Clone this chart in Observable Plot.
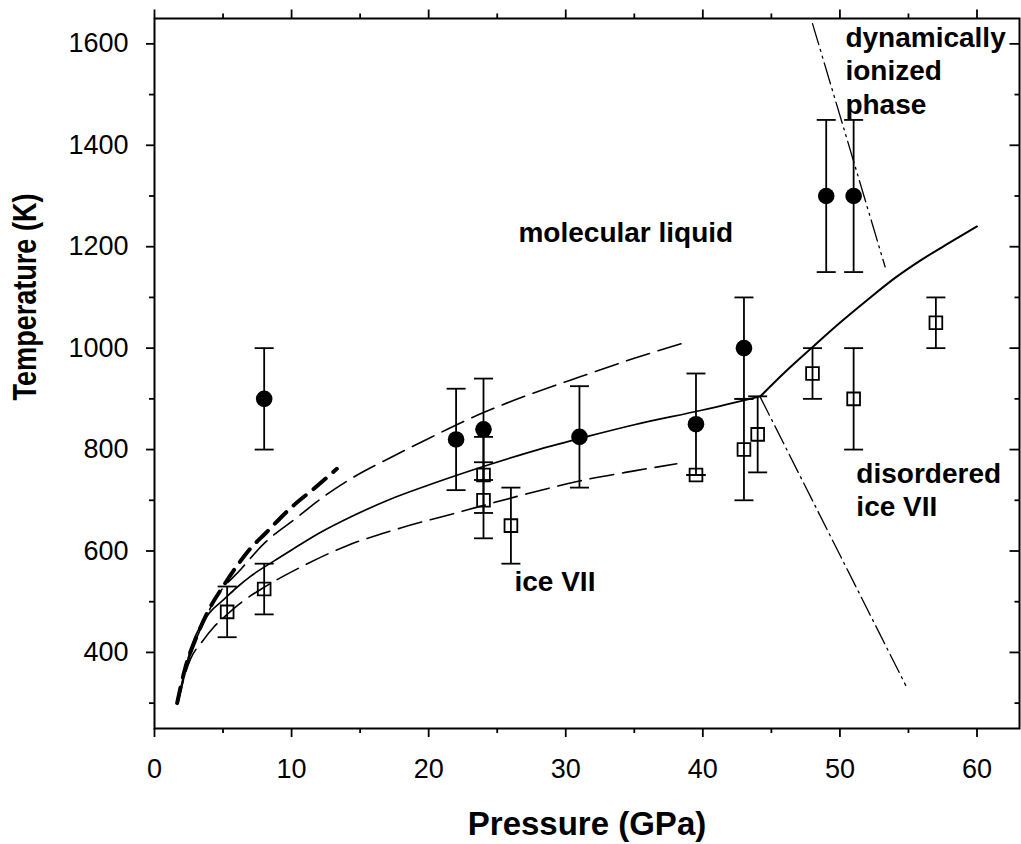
<!DOCTYPE html>
<html><head><meta charset="utf-8">
<script src="https://cdn.jsdelivr.net/npm/d3@7"></script>
<script src="https://cdn.jsdelivr.net/npm/@observablehq/plot@0.6"></script>
<style>body{margin:0;background:#fff}</style>
</head><body><div id="chart"></div>
<script>
// Measured data: molecular liquid (filled circles)
const liquidP = [8, 22, 24, 31, 39.5, 43, 49, 51];
const liquidT = [900, 820, 840, 825, 850, 1000, 1300, 1300];
const liquidErr = [100, 100, 100, 100, 100, 100, 150, 150];

// ice VII (open squares)
const iceP = [5.3, 8, 24, 24, 26, 39.5, 43, 44, 48, 51, 57];
const iceT = [480, 525, 750, 700, 650, 750, 800, 830, 950, 900, 1050];
const iceErr = [50, 50, 75, 75, 75, 0, 100, 75, 50, 100, 50];

// melting curve (solid)
const meltP = [1.7, 2, 2.5, 3, 3.5, 4, 5, 6, 7, 8.7, 10, 12, 14.3, 17.2, 20, 24.5, 28, 31.6, 35, 40, 44.2];
const meltT = [300, 340, 393, 433, 458, 478, 503, 528, 550, 580, 602, 635, 667, 702, 730, 771, 800, 826, 849, 878, 905];
// high-pressure melting curve (solid)
const meltHighP = [44.2, 46, 48, 50, 52, 54, 56, 58, 60];
const meltHighT = [905, 953, 1002, 1050, 1095, 1138, 1175, 1208, 1240];
// upper thin dashed curve
const upperP = [1.7, 2.5, 3.5, 4.5, 6.3, 8, 10.2, 12.6, 14.3, 17.2, 20, 24, 27.5, 31.1, 35, 38.7];
const upperT = [300, 385, 455, 508, 564, 615, 662, 712, 742, 784, 822, 873, 910, 944, 980, 1011];
// lower thin dashed curve
const lowerP = [1.7, 2.1, 2.63, 3.5, 4.33, 5.18, 6.5, 7.97, 10.65, 14, 17.9, 22, 26.5, 31, 35, 38.1];
const lowerT = [300, 345, 387, 422, 450, 472, 502, 528, 568, 610, 645, 675, 708, 738, 758, 772];
// thick dashed curve
const thickP = [1.65, 2.2, 3.1, 4, 5, 6, 7, 8.1, 9.9, 11.9, 13.3];
const thickT = [300, 365, 433, 486, 530, 570, 605, 635, 684, 729, 762];
// ice VII / disordered ice VII boundary (dash-dot)
const boundP = [44.2, 54.8];
const boundT = [903, 335];
// liquid / dynamically ionized boundary (dash-dot-dot)
const ionP = [48.0, 53.3];
const ionT = [1640, 1160];

// region labels
const labelText = ["molecular liquid", "ice VII", "disordered", "ice VII", "dynamically", "ionized", "phase"];
const labelP = [26.55, 26.26, 51.2, 51.2, 50.4, 50.4, 50.4];
const labelT = [1209, 521, 734, 670, 1594, 1528, 1462];

// ticks
const xMajor = [0, 10, 20, 30, 40, 50, 60];
const xMinor = [5, 15, 25, 35, 45, 55];
const yMajor = [400, 600, 800, 1000, 1200, 1400, 1600];
const yMinor = [300, 500, 700, 900, 1100, 1300, 1500];

const rows = (P, T, E) => P.map((p, i) => ({P: p, T: T[i], e: E ? E[i] : 0}));
const liquid = rows(liquidP, liquidT, liquidErr);
const ice = rows(iceP, iceT, iceErr);
const labels = labelText.map((t, i) => ({t, P: labelP[i], T: labelT[i]}));

const hLine = (a, b) => ({draw(ctx) { ctx.moveTo(a, 0); ctx.lineTo(b, 0); }});
const vLine = (a, b) => ({draw(ctx) { ctx.moveTo(0, a); ctx.lineTo(0, b); }});
const cap = hLine(-9.5, 9.5);

const lineOpts = {x: "P", y: "T", stroke: "black", curve: "monotone-x"};
const sw = 1.8;

const chart = Plot.plot({
  width: 1021, height: 844,
  marginLeft: 154, marginRight: 2, marginTop: 18, marginBottom: 116,
  style: {fontFamily: "'Liberation Sans', Arial, sans-serif", fontSize: "27px", color: "black", background: "white"},
  x: {domain: [0, 63.1]},
  y: {domain: [250, 1650]},
  marks: [
    Plot.line(rows(meltP, meltT), {...lineOpts, strokeWidth: 1.7}),
    Plot.line(rows(meltHighP, meltHighT), {...lineOpts, strokeWidth: 2}),
    Plot.line(rows(upperP, upperT), {...lineOpts, strokeWidth: 1.6, strokeDasharray: "24,9"}),
    Plot.line(rows(lowerP, lowerT), {...lineOpts, strokeWidth: 1.6, strokeDasharray: "24,9"}),
    Plot.line(rows(thickP, thickT), {...lineOpts, strokeWidth: 4, strokeDasharray: "16,10", strokeLinecap: "round"}),
    Plot.line(rows(boundP, boundT), {...lineOpts, curve: "linear", strokeWidth: 1.3, strokeDasharray: "20,5,2,5"}),
    Plot.line(rows(ionP, ionT), {...lineOpts, curve: "linear", strokeWidth: 1.3, strokeDasharray: "22,5,2,5,2,5"}),
    // error bars
    Plot.ruleX(liquid, {x: "P", y1: d => d.T - d.e, y2: d => d.T + d.e, strokeWidth: sw}),
    Plot.ruleX(ice, {x: "P", y1: d => d.T - d.e, y2: d => d.T + d.e, strokeWidth: sw}),
    Plot.dot(liquid, {x: "P", y: d => d.T - d.e, symbol: cap, fill: "none", stroke: "black", strokeWidth: sw}),
    Plot.dot(liquid, {x: "P", y: d => d.T + d.e, symbol: cap, fill: "none", stroke: "black", strokeWidth: sw}),
    Plot.dot(ice, {x: "P", y: d => d.T - d.e, symbol: cap, fill: "none", stroke: "black", strokeWidth: sw}),
    Plot.dot(ice, {x: "P", y: d => d.T + d.e, symbol: cap, fill: "none", stroke: "black", strokeWidth: sw}),
    // symbols
    Plot.dot(ice, {x: "P", y: "T", symbol: "square", r: 7.2, fill: "none", stroke: "black", strokeWidth: sw}),
    Plot.dot(liquid, {x: "P", y: "T", r: 8.3, fill: "black", stroke: "none"}),
    // region labels
    Plot.text(labels, {x: "P", y: "T", text: "t", textAnchor: "start", lineAnchor: "bottom", fontWeight: "bold", fontSize: 28, fill: "black"}),
    // axes
    Plot.axisX(xMajor, {tickSize: 9, tickPadding: 21, strokeWidth: sw, label: null, tickFormat: d => String(d)}),
    Plot.axisX(xMinor, {tickSize: 5, strokeWidth: sw, label: null, tickFormat: () => ""}),
    Plot.axisY(yMajor, {tickSize: 8, tickPadding: 18, strokeWidth: sw, label: null, tickFormat: d => String(d)}),
    Plot.axisY(yMinor, {tickSize: 5, strokeWidth: sw, label: null, tickFormat: () => ""}),
    Plot.dot(xMajor, {x: d => d, frameAnchor: "top", symbol: vLine(-9, 0), fill: "none", stroke: "black", strokeWidth: sw}),
    Plot.dot(xMinor, {x: d => d, frameAnchor: "top", symbol: vLine(-5, 0), fill: "none", stroke: "black", strokeWidth: sw}),
    Plot.dot(yMajor, {y: d => d, frameAnchor: "right", symbol: hLine(-10, 0), fill: "none", stroke: "black", strokeWidth: sw}),
    Plot.dot(yMinor, {y: d => d, frameAnchor: "right", symbol: hLine(-5, 0), fill: "none", stroke: "black", strokeWidth: sw}),
    Plot.frame({stroke: "black", strokeWidth: 2}),
    // axis titles
    Plot.text(["Pressure (GPa)"], {frameAnchor: "bottom", dy: 106, lineAnchor: "bottom", text: d => d, fontWeight: "bold", fontSize: 33, fill: "black"}),
    Plot.text(["Temperature (K)"], {frameAnchor: "left", dx: -129, dy: 27, rotate: -90, lineAnchor: "middle", text: d => d, fontWeight: "bold", fontSize: 33, fill: "black"})
  ]
});
document.getElementById("chart").appendChild(chart);
chart.querySelectorAll("text").forEach(t => {
  if (t.textContent === "Temperature (K)") {
    t.setAttribute("textLength", "207");
    t.setAttribute("lengthAdjust", "spacingAndGlyphs");
  }
});
</script>
</body></html>
